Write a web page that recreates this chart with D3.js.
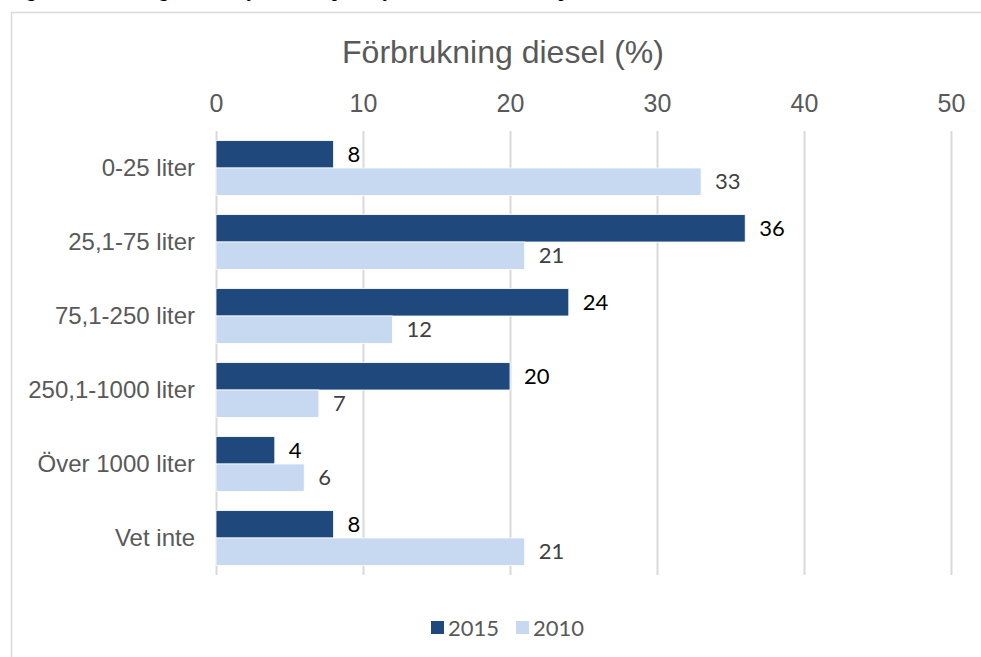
<!DOCTYPE html>
<html>
<head>
<meta charset="utf-8">
<title>Förbrukning diesel (%)</title>
<script src="https://cdn.jsdelivr.net/npm/d3@7/dist/d3.min.js"></script>
<style>
  body { margin: 0; background: #fff; overflow: hidden; }
  svg { display: block; }
</style>
</head>
<body>
<div id="chart"></div>
<script>
  // data
  const categories = ["0-25 liter", "25,1-75 liter", "75,1-250 liter", "250,1-1000 liter", "Över 1000 liter", "Vet inte"];
  const years = ["2015", "2010"];
  const values2015 = [8, 36, 24, 20, 4, 8];
  const values2010 = [33, 21, 12, 7, 6, 21];
  const ticks = [0, 10, 20, 30, 40, 50];
  const colors = ["#1f497d", "#c6d9f1"];
  const labelColors = ["#000000", "#404040"];

  const width = 981, height = 657;
  const svg = d3.select("#chart").append("svg")
    .attr("width", width).attr("height", height);

  // cut-off caption above the frame (only descenders show)
  svg.append("text")
    .attr("x", 12).attr("y", -3)
    .attr("font-family", "Liberation Serif, serif")
    .attr("font-weight", "bold")
    .attr("font-size", 17)
    .text("Figur 4. Förbrukning av diesel i jordbruket per år, jämfört 2015 och 2010 i procent");

  // frame (open to the right and bottom)
  svg.append("path")
    .attr("d", `M${width + 5},12.5 H11.5 V${height + 5}`)
    .attr("fill", "none").attr("stroke", "#d9d9d9").attr("stroke-width", 1.5);

  const x = d3.scaleLinear().domain([0, 50]).range([216, 951]);
  const y = d3.scaleBand().domain(categories).range([131, 575]).paddingInner(0.26).paddingOuter(0.13);
  const ySub = d3.scaleBand().domain(years).range([0, y.bandwidth()]);

  // title
  svg.append("text")
    .attr("x", 503).attr("y", 63)
    .attr("text-anchor", "middle")
    .attr("font-family", "Liberation Sans, Arial, sans-serif")
    .attr("font-size", 32)
    .attr("fill", "#595959")
    .text("Förbrukning diesel (%)");

  // gridlines + top axis
  const xAxis = d3.axisTop(x).tickValues(ticks).tickSize(-(575 - 131)).tickPadding(19);
  const gx = svg.append("g")
    .attr("transform", "translate(0,131)")
    .call(xAxis);
  gx.select(".domain").remove();
  gx.selectAll(".tick line").attr("stroke", "#d9d9d9").attr("stroke-width", 2);
  gx.selectAll(".tick text")
    .attr("font-family", "Liberation Sans, Arial, sans-serif")
    .attr("font-size", 25)
    .attr("fill", "#595959");

  // category labels
  const yAxis = d3.axisLeft(y).tickSize(0).tickPadding(21);
  const gy = svg.append("g")
    .attr("transform", "translate(216,0)")
    .call(yAxis);
  gy.select(".domain").remove();
  gy.selectAll(".tick text")
    .attr("font-family", "Liberation Sans, Arial, sans-serif")
    .attr("font-size", 24)
    .attr("fill", "#595959");

  // bars
  const series = [values2015, values2010];
  series.forEach((vals, s) => {
    const g = svg.append("g");
    g.selectAll("rect")
      .data(vals)
      .enter().append("rect")
      .attr("x", x(0))
      .attr("y", (d, i) => y(categories[i]) + ySub(years[s]))
      .attr("width", d => x(d) - x(0))
      .attr("height", ySub.bandwidth())
      .attr("fill", colors[s])
      .attr("stroke", "#fff")
      .attr("stroke-width", 0.8);
    g.selectAll("text")
      .data(vals)
      .enter().append("text")
      .attr("x", d => x(d) + 14)
      .attr("y", (d, i) => y(categories[i]) + ySub(years[s]) + ySub.bandwidth() / 2)
      .attr("dy", "0.35em")
      .attr("font-family", "Lato, Open Sans, sans-serif")
      .attr("font-size", 22)
      .attr("fill", labelColors[s])
      .text(d => d);
  });

  // legend
  const legend = svg.append("g").attr("transform", "translate(431,621)");
  const legendX = [0, 85];
  years.forEach((yr, i) => {
    legend.append("rect")
      .attr("x", legendX[i]).attr("y", 0)
      .attr("width", 13).attr("height", 13)
      .attr("fill", colors[i]);
    legend.append("text")
      .attr("x", legendX[i] + 17).attr("y", 7)
      .attr("dy", "0.35em")
      .attr("font-family", "Lato, Open Sans, sans-serif")
      .attr("font-size", 22)
      .attr("fill", "#595959")
      .text(yr);
  });
</script>
</body>
</html>
